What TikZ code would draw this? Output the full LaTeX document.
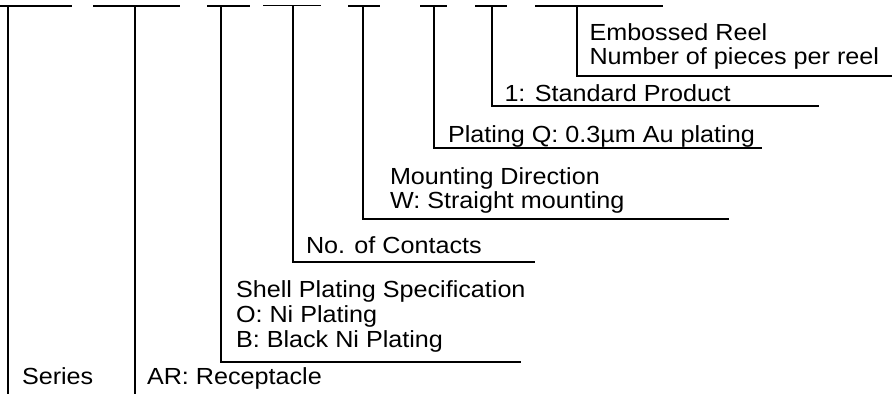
\documentclass[tikz,border=0pt]{standalone}
\usepackage{fontspec}
\setmainfont{Liberation Sans}
\begin{document}
\begin{tikzpicture}[x=1pt,y=-1pt,line width=1.8pt,
  lbl/.style={anchor=base west,inner sep=0pt,outer sep=0pt,xscale=1.08,transform shape,font=\fontsize{23.3}{24}\selectfont},
  rule/.style={draw=black,line width=1.8pt}]
\useasboundingbox (0,0) rectangle (892,396);
% top dashes
\coordinate (a1) at (0,6);   \coordinate (b1) at (72,6);
\coordinate (a2) at (93,6);  \coordinate (b2) at (180,6);
\coordinate (a3) at (207,6); \coordinate (b3) at (250,6);
\coordinate (a4) at (263,5.5); \coordinate (b4) at (321,5.5);
\coordinate (a5) at (348,6); \coordinate (b5) at (380,6);
\coordinate (a6) at (420,6); \coordinate (b6) at (447,6);
\coordinate (a7) at (475,6); \coordinate (b7) at (507,6);
\coordinate (a8) at (535,6); \coordinate (b8) at (663,6);
\foreach \i in {1,...,8} {\draw[rule] (a\i) -- (b\i);}
% vertical tops
\coordinate (t1) at (8,6);
\coordinate (t2) at (135,6);
\coordinate (t3) at (221,6);
\coordinate (t4) at (293,5.5);
\coordinate (t5) at (363,6);
\coordinate (t6) at (434,6);
\coordinate (t7) at (492,6);
\coordinate (t8) at (577,6);
% bottoms / corners
\coordinate (e1) at (8,394);
\coordinate (e2) at (135,394);
\coordinate (c3) at (221,362); \coordinate (e3) at (521,362);
\coordinate (c4) at (293,262); \coordinate (e4) at (535,262);
\coordinate (c5) at (363,219); \coordinate (e5) at (729,219);
\coordinate (c6) at (434,148); \coordinate (e6) at (762,148);
\coordinate (c7) at (492,106); \coordinate (e7) at (819,106);
\coordinate (c8) at (577,76);  \coordinate (e8) at (892,76);
\draw[rule] (t1) -- (e1);
\draw[rule] (t2) -- (e2);
\draw[rule] (t3) -- (c3) -- (e3);
\draw[rule] (t4) -- (c4) -- (e4);
\draw[rule] (t5) -- (c5) -- (e5);
\draw[rule] (t6) -- (c6) -- (e6);
\draw[rule] (t7) -- (c7) -- (e7);
\draw[rule] (t8) -- (c8) -- (e8);
% labels
\node[lbl] (series) at (22,384.5) {Series};
\node[lbl] (ar) at (147,384.5) {AR: Receptacle};
\node[lbl] (sh1) at (236,297) {Shell Plating Specification};
\node[lbl] (sh2) at (236,322) {O: Ni Plating};
\node[lbl] (sh3) at (236,347.7) {B: Black Ni Plating};
\node[lbl] (noc) at (306,253.5) {No. of Contacts};
\node[lbl] (mo1) at (390,184.5) {Mounting Direction};
\node[lbl] (mo2) at (390,208.5) {W: Straight mounting};
\node[lbl] (plq) at (448,142) {Plating Q: 0.3\textmu m Au plating};
\node[lbl] (std) at (504.5,101) {1: Standard Product};
\node[lbl] (em1) at (589.5,40.5) {Embossed Reel};
\node[lbl] (em2) at (589.5,64.5) {Number of pieces per reel};
\end{tikzpicture}
\end{document}
